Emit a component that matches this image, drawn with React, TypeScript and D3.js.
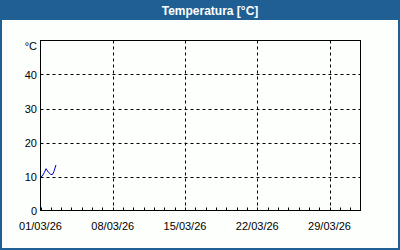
import React from "react";
import * as d3 from "d3";

const title = "Temperatura [°C]";
const unitLabel = "°C";
const yTicks = [0, 10, 20, 30, 40];
const xTickLabels = ["01/03/26", "08/03/26", "15/03/26", "22/03/26", "29/03/26"];
// hours since 01/03/26 00:00
const hours = [0, 4, 9, 13, 18, 24, 28, 31, 36];
const temps = [9.9, 10.1, 11.2, 12.3, 11.3, 10.6, 10.6, 11.4, 13.4];

const W = 400, H = 250;
const start = new Date(2026, 2, 1);
const end = new Date(2026, 3, 1);

export default function App() {
  const x = d3.scaleTime().domain([start, end]).range([40.5, 360.5]);
  const y = d3.scaleLinear().domain([0, 50]).range([210.5, 40.5]);
  const days = d3.timeDay.range(start, end);
  const majors = xTickLabels.map((_, i) => d3.timeDay.offset(start, i * 7));
  const pts: [Date, number][] = hours.map((h, i) => [d3.timeHour.offset(start, h), temps[i]]);
  const line = d3.line<[Date, number]>().x(d => x(d[0])).y(d => y(d[1]));
  const font = "'Liberation Sans', Arial, sans-serif";
  return (
    <svg width={W} height={H} style={{ position: "absolute", left: 0, top: 0 }}>
      <rect x={0} y={0} width={W} height={H} fill="#1f5f94" />
      <rect x={2} y={20} width={W - 4} height={H - 22} fill="#fcfffc" />
      <text x={210} y={15} textAnchor="middle" fill="#fff" fontFamily={font} fontWeight="bold" fontSize={12}>{title}</text>
      {yTicks.filter(v => v > 0).map(v => (
        <line key={"gy" + v} x1={40.5} x2={360.5} y1={Math.round(y(v)) + 0.5} y2={Math.round(y(v)) + 0.5} stroke="#000" strokeDasharray="3 3" />
      ))}
      {majors.slice(1).map((d, i) => (
        <line key={"gx" + i} x1={Math.round(x(d)) + 0.5} x2={Math.round(x(d)) + 0.5} y1={40.5} y2={210.5} stroke="#000" strokeDasharray="3 3" />
      ))}
      {days.map((d, i) => (
        <line key={"t" + i} x1={Math.round(x(d)) + 0.5} x2={Math.round(x(d)) + 0.5} y1={207.5} y2={210.5} stroke="#000" />
      ))}
      <rect x={40.5} y={40.5} width={320} height={170} fill="none" stroke="#000" />
      <path d={line(pts) || ""} fill="none" stroke="#0000cc" strokeWidth={1} />
      {yTicks.map(v => (
        <text key={"yl" + v} x={37} y={y(v) + 4} textAnchor="end" fontFamily={font} fontSize={11} fill="#000">{v}</text>
      ))}
      <text x={37} y={50} textAnchor="end" fontFamily={font} fontSize={11} fill="#000">{unitLabel}</text>
      {majors.map((d, i) => (
        <text key={"xl" + i} x={x(d)} y={230} textAnchor="middle" fontFamily={font} fontSize={11} fill="#000">{xTickLabels[i]}</text>
      ))}
    </svg>
  );
}
